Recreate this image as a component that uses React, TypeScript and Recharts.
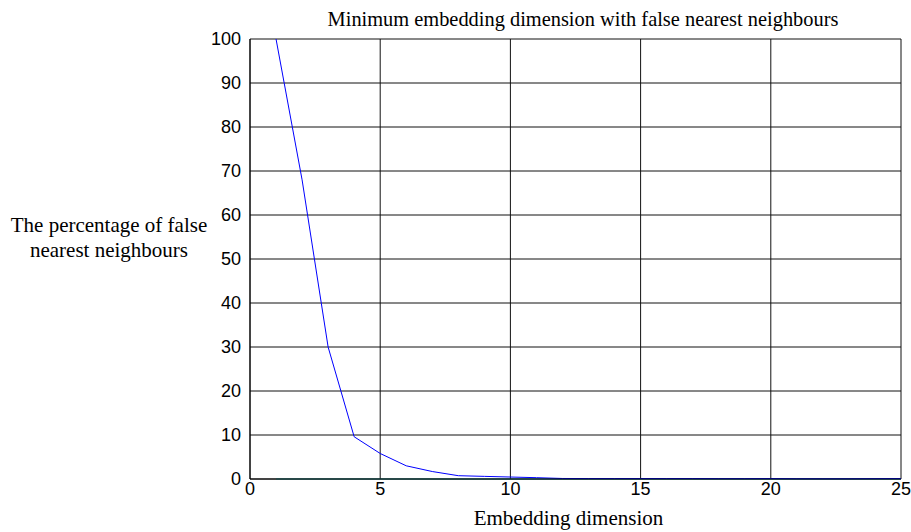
import { LineChart, Line, XAxis, YAxis, CartesianGrid } from 'recharts'

const dims = [1, 2, 3, 4, 5, 6, 7, 8, 9, 10, 11, 12, 13, 14, 15, 16, 17, 18, 19, 20, 21, 22, 23, 24, 25]
const fnnPercent = [100, 68, 30, 9.6, 5.8, 3, 1.7, 0.75, 0.6, 0.45, 0.3, 0.12, 0.1, 0.1, 0.1, 0.1, 0.1, 0.08, 0.08, 0.1, 0.06, 0.05, 0.05, 0.08, 0.1]
const baseline = [0, 0, 0, 0, 0, 0, 0, 0, 0, 0, 0, 0, 0, 0, 0, 0, 0, 0, 0, 0, 0, 0, 0, 0, 0]
const xTicks = [0, 5, 10, 15, 20, 25]
const yTicks = [0, 10, 20, 30, 40, 50, 60, 70, 80, 90, 100]

const data = dims.map((d, i) => ({ dim: d, fnn: fnnPercent[i], base: baseline[i] }))

const serif = '"Liberation Serif", "Times New Roman", serif'
const sans = '"Liberation Sans", Arial, sans-serif'

export default function App() {
  return (
    <div style={{ position: 'absolute', left: 0, top: 0, width: 911, height: 532, background: '#fff' }}>
      <LineChart width={911} height={532} data={data} margin={{ top: 39, right: 10, bottom: 23, left: 210 }}>
        <CartesianGrid stroke="#111" strokeDasharray="" />
        <XAxis
          dataKey="dim"
          type="number"
          domain={[0, 25]}
          ticks={xTicks}
          height={30}
          tickSize={0}
          tickMargin={3}
          tickLine={false}
          axisLine={{ stroke: '#000' }}
          tick={{ fill: '#000', fontSize: 18, fontFamily: sans }}
        />
        <YAxis
          type="number"
          domain={[0, 100]}
          ticks={yTicks}
          width={40}
          tickSize={0}
          tickMargin={9}
          tickLine={false}
          axisLine={{ stroke: '#000' }}
          tick={{ fill: '#000', fontSize: 18, fontFamily: sans }}
        />
        <Line type="linear" dataKey="base" stroke="#1a9c9c" strokeWidth={1} dot={false} isAnimationActive={false} />
        <Line type="linear" dataKey="fnn" stroke="#0000ff" strokeWidth={1} dot={false} isAnimationActive={false} />
      </LineChart>
      <div style={{ position: 'absolute', left: 253, width: 660, top: 7, textAlign: 'center', fontFamily: serif, fontSize: 20.4, lineHeight: '24px', color: '#000' }}>
        Minimum embedding dimension with false nearest neighbours
      </div>
      <div style={{ position: 'absolute', left: 0, width: 218, top: 213, textAlign: 'center', fontFamily: serif, fontSize: 21, lineHeight: '25px', color: '#000' }}>
        The percentage of false
        <br />
        nearest neighbours
      </div>
      <div style={{ position: 'absolute', left: 243, width: 651, top: 506, textAlign: 'center', fontFamily: serif, fontSize: 21, lineHeight: '24px', color: '#000' }}>
        Embedding dimension
      </div>
    </div>
  )
}
